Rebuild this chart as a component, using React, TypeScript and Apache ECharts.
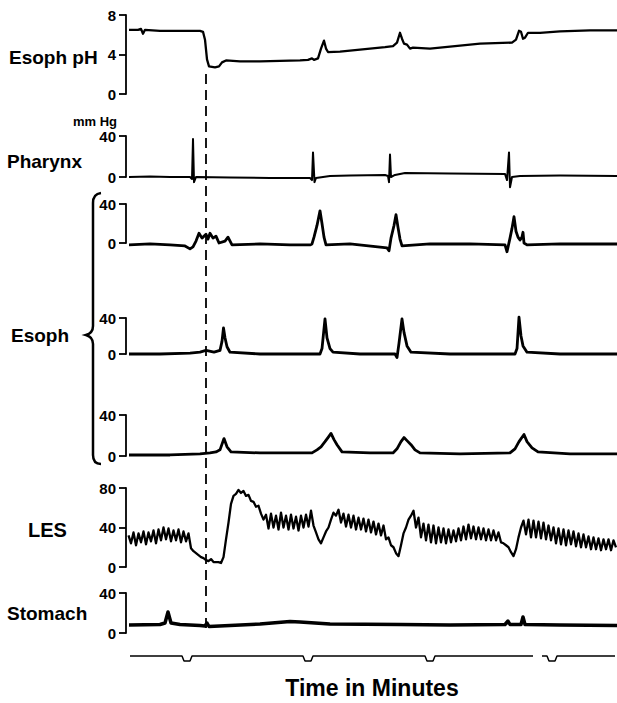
import React, { useEffect, useRef } from "react";
import * as echarts from "echarts";

// time axis in seconds (0 .. 245.5)
const timeMax = 245.5;

// Esophageal pH [time s, pH]
const phData: number[][] = [
  [1.5, 6.5], [6, 6.5], [7.5, 6.6], [8.5, 6.1], [9.5, 6.5], [17, 6.4], [37, 6.4], [38.5, 6.3],
  [39.5, 5.5], [40.5, 3.5], [41.5, 2.8], [44.5, 2.7], [46.5, 2.8], [48, 3.2], [50, 3.4], [57, 3.3],
  [67, 3.3], [77, 3.35], [87, 3.4], [91, 3.45], [93, 3.6], [94, 3.45], [96, 3.6], [97.5, 4.6],
  [99, 5.4], [100, 4.6], [101, 4.25], [107, 4.3], [117, 4.5], [129.5, 4.75], [133.5, 4.85],
  [135.5, 5.2], [137, 6.2], [138, 5.6], [139, 5.1], [140.5, 5.0], [142, 4.6], [143.5, 4.7],
  [152, 4.6], [162, 4.8], [177, 5.1], [193, 5.2], [195, 5.5], [196.5, 6.4], [197.5, 6.3],
  [198.5, 5.6], [199.5, 5.7], [201, 6.2], [207, 6.2], [217, 6.35], [232, 6.45], [245.5, 6.45],
];

// Pharynx pressure, mm Hg
const pharynxData: number[][] = [
  [1.5, 0], [12, 0.5], [22, 0], [32, 0], [33, -2], [33.5, 37], [34, -5], [35, 0], [52, -0.5],
  [72, -1], [92, -1], [93, -3], [93.5, 24], [94.25, -5], [95, -1], [102, 1], [112, 1.5],
  [129.5, 2], [131, 1], [131.5, -5], [132, 22], [132.5, 0], [134.5, 2], [139.5, 4], [162, 3.5],
  [189.5, 3], [190.5, -3], [191.5, 24], [192, -10], [193, 0], [197, 1], [217, 1.5], [245.5, 1],
];

// Esophageal body pressures, mm Hg (upper, middle, lower)
const esoph1Data: number[][] = [
  [1.5, -2], [12, -1], [22, -2], [29.5, -3], [32, -6], [33.5, -4], [35, 2], [36.5, 10], [38, 5],
  [40, 9], [41, 4], [42, 10], [43.5, 5], [45, 7], [46.5, 0], [49.5, 2], [51, 6], [53, -2],
  [67, -1], [82, -2], [92, -2], [93, -1], [94, 6], [95.5, 18], [97, 33], [98, 20], [99, 6],
  [100, -2], [112, -1], [130.5, -5], [131.5, -8], [132.5, 5], [134, 18], [135, 29], [136, 16],
  [137, 4], [138, -3], [152, -1], [172, -1], [189.5, -2], [190.5, -9], [192, 5], [193, 15],
  [194, 27], [195, 12], [196, 6], [197, 3], [198, 6], [198.5, 11], [199, 0], [200.5, -2],
  [217, -1], [245.5, -1],
];

const esoph2Data: number[][] = [
  [1.5, 0], [17, 0], [32, 1], [37, 2], [40, 4], [44, 2], [47, 4], [48, 14], [48.75, 29],
  [49.5, 18], [50.5, 8], [52, 2], [67, 0], [87, 0], [97, 0], [98, 6], [99.5, 39], [100.5, 18],
  [102, 6], [103.5, 2], [117, 0], [134.5, 0], [135.5, -4], [136.5, 12], [138, 39], [139, 24],
  [140.5, 9], [142.5, 2], [162, 0], [187, 0], [194.5, 0], [195.5, 6], [196.5, 41], [197.5, 20],
  [198.5, 9], [200.5, 2], [217, 0], [245.5, 0],
];

const esoph3Data: number[][] = [
  [1.5, 1], [22, 1], [37, 2], [42, 3], [45, 4], [47, 6], [49, 17], [50.5, 9], [52.5, 4],
  [67, 3], [87, 3], [93, 3], [95.5, 6], [97.5, 9], [99.5, 14], [101, 18], [102.5, 22],
  [104, 16], [105.5, 11], [108, 4], [122, 3], [133.5, 3], [135.5, 7], [137.5, 14], [139, 18],
  [140.5, 15], [142.5, 11], [144.5, 6], [147, 3], [167, 2], [192, 3], [194.5, 7], [196.5, 14],
  [199, 21], [200.5, 14], [203, 8], [206, 4], [222, 2], [245.5, 2],
];

// LES pressure, mm Hg, sampled every 1.25 s from 1.25 s
const lesStart = 1.25;
const lesStep = 1.25;
const lesValues: number[] = [
  32, 24, 35, 22, 34, 25, 36, 23, 35, 26, 37, 24, 38, 27, 40, 28, 39, 26, 37, 27, 38, 25, 36, 26, 34,
  19, 16, 14, 12, 10, 9, 7, 6, 8, 5, 5, 5, 4, 10, 28, 45, 64, 72, 74, 78, 75, 77, 72, 73, 67, 66, 61, 62, 54, 48,
  53, 39, 54, 40, 52, 38, 55, 40, 52, 38, 53, 39, 51, 37, 52, 40, 53, 41, 57, 42,
  35, 28, 24, 30, 36, 40, 48, 55, 52, 58,
  45, 54, 41, 53, 40, 52, 38, 50, 38, 49, 36, 48, 35, 46, 33, 44, 32, 42,
  28, 30, 22, 20, 14, 11, 22, 34, 40, 48, 52, 57,
  40, 50, 30, 44, 27, 43, 25, 42, 24, 40, 25, 39, 24, 38, 25, 37, 26, 39, 27, 41, 28, 43, 29, 41,
  28, 40, 28, 39, 27, 38, 27, 37, 27, 35,
  25, 24, 22, 20, 15, 11, 18, 30, 40, 47,
  33, 48, 30, 47, 30, 46, 29, 45, 28, 42, 27, 40, 24, 39, 23, 38, 22, 37, 23, 36, 21, 34, 20, 33,
  20, 31, 18, 30, 18, 29, 17, 28, 18, 28, 17, 27, 20,
];

// Stomach pressure, mm Hg
const stomachData: number[][] = [
  [1.5, 8], [17, 8.5], [19.5, 10], [21, 21], [22.5, 10], [27, 8.5], [37, 7.5], [39.5, 7],
  [40.5, 10], [41.5, 6.5], [52, 7.5], [67, 9], [82, 11.5], [87, 11], [102, 9], [137, 8.5],
  [162, 8], [189.5, 8.5], [191, 12], [192, 8.5], [197.5, 8.5], [198.5, 16], [199.5, 8.5],
  [217, 8], [245.5, 7.5],
];

// minute marker trace: start/end, notches [start, bottomStart, bottomEnd, end], gap
const markerStart = 2;
const markerEnd = 244.5;
const minuteNotches: number[][] = [
  [28, 29, 32, 33],
  [88.5, 89.5, 92.5, 93.5],
  [149.5, 150.5, 153.5, 154.5],
  [210.5, 211.5, 214.5, 215.5],
];
const markerGap = [203.5, 208];

// reflux event time (dashed line)
const refluxT = 40;

const FONT = "'Liberation Sans', Arial, sans-serif";

const bracePath =
  "M101,193 Q93,194 93,203 L93,326 Q93,333 86,335 Q93,337 93,344 L93,455 Q93,464 101,464";

export default function App() {
  const ref = useRef<HTMLDivElement>(null);
  useEffect(() => {
    document.body.style.margin = "0";
    try {
      echarts.graphic.registerShape("brace", echarts.graphic.extendPath(bracePath, {}) as any);
    } catch (e) {}
    const chart = echarts.init(ref.current!, null, { renderer: "svg" });

    const lesData = lesValues.map((v, i) => [lesStart + i * lesStep, v]);

    const markerData: any[] = [[markerStart, 0]];
    minuteNotches.forEach((n, k) => {
      if (k === 3) {
        markerData.push([markerGap[0], 0]);
        markerData.push([(markerGap[0] + markerGap[1]) / 2, "-"]);
        markerData.push([markerGap[1], 0]);
      }
      markerData.push([n[0], 0], [n[1], -1], [n[2], -1], [n[3], 0]);
    });
    markerData.push([markerEnd, 0]);

    const panels = [
      { top: 15, height: 79, max: 8, interval: 4, data: phData, lw: 2.3 },
      { top: 136, height: 41, max: 40, interval: 40, data: pharynxData, lw: 2 },
      { top: 204, height: 39, max: 40, interval: 40, data: esoph1Data, lw: 2.8 },
      { top: 318, height: 36, max: 40, interval: 40, data: esoph2Data, lw: 2.8 },
      { top: 415, height: 41, max: 40, interval: 40, data: esoph3Data, lw: 2.8 },
      { top: 488, height: 79, max: 80, interval: 40, data: lesData, lw: 2.3 },
      { top: 593, height: 40, max: 40, interval: 40, data: stomachData, lw: 3.5 },
    ];

    const grids: any[] = [];
    const xAxes: any[] = [];
    const yAxes: any[] = [];
    const series: any[] = [];

    panels.forEach((p, i) => {
      grids.push({ left: 126, right: 0, top: p.top, height: p.height, containLabel: false });
      xAxes.push({ gridIndex: i, type: "value", min: 0, max: timeMax, show: false });
      yAxes.push({
        gridIndex: i,
        type: "value",
        min: 0,
        max: p.max,
        interval: p.interval,
        axisLine: { show: true, lineStyle: { color: "#000", width: 1.8 } },
        axisTick: { show: true, inside: false, length: 7, lineStyle: { color: "#000", width: 1.8 } },
        axisLabel: { color: "#000", fontSize: 15, fontWeight: "bold", margin: 10, fontFamily: FONT },
        splitLine: { show: false },
      });
      series.push({
        type: "line",
        xAxisIndex: i,
        yAxisIndex: i,
        data: p.data,
        showSymbol: false,
        symbol: "none",
        clip: false,
        silent: true,
        lineStyle: { color: "#000", width: p.lw, join: "round" },
      });
    });

    // minute marker grid
    const mi = panels.length;
    grids.push({ left: 126, right: 0, top: 656, height: 5 });
    xAxes.push({ gridIndex: mi, type: "value", min: 0, max: timeMax, show: false });
    yAxes.push({ gridIndex: mi, type: "value", min: -1, max: 0, show: false });
    series.push({
      type: "line",
      xAxisIndex: mi,
      yAxisIndex: mi,
      data: markerData,
      showSymbol: false,
      symbol: "none",
      clip: false,
      silent: true,
      connectNulls: false,
      lineStyle: { color: "#000", width: 1.5 },
    });

    // dashed reflux line grid
    const di = mi + 1;
    grids.push({ left: 126, right: 0, top: 72, height: 556 });
    xAxes.push({ gridIndex: di, type: "value", min: 0, max: timeMax, show: false });
    yAxes.push({ gridIndex: di, type: "value", min: 0, max: 1, show: false });
    series.push({
      type: "line",
      xAxisIndex: di,
      yAxisIndex: di,
      data: [[refluxT, 0], [refluxT, 1]],
      showSymbol: false,
      symbol: "none",
      silent: true,
      lineStyle: { color: "#000", width: 1.8, type: [10, 6] },
    });

    const txt = (text: string, x: number, y: number, size: number, extra: any = {}) => ({
      type: "text",
      x,
      y,
      silent: true,
      style: {
        text,
        fill: "#000",
        font: `bold ${size}px ${FONT}`,
        verticalAlign: "middle",
        align: "left",
        ...extra,
      },
    });

    chart.setOption({
      animation: false,
      backgroundColor: "#fff",
      grid: grids,
      xAxis: xAxes,
      yAxis: yAxes,
      series,
      graphic: [
        txt("Esoph pH", 9, 57, 19),
        txt("mm Hg", 73, 121, 13),
        txt("Pharynx", 7, 161, 19),
        txt("Esoph", 11, 335, 19),
        txt("LES", 28, 530, 20),
        txt("Stomach", 7, 613, 19),
        txt("Time in Minutes", 372, 688, 23, { align: "center" }),
        {
          type: "brace",
          x: 0,
          y: 0,
          silent: true,
          style: { fill: "none", stroke: "#000", lineWidth: 2.5 },
        },
      ],
    });
    return () => chart.dispose();
  }, []);
  return <div ref={ref} style={{ width: 617, height: 703 }} />;
}
